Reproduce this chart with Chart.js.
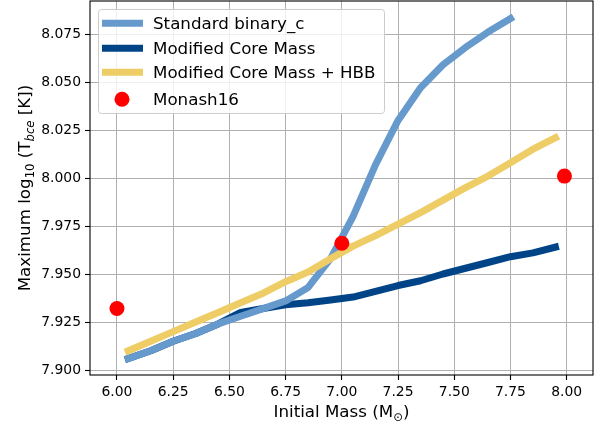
<!DOCTYPE html>
<html lang="en">
<head>
  <meta charset="UTF-8" />
  <title>Maximum Tbce vs initial mass</title>
  <script src="https://cdn.jsdelivr.net/npm/chart.js"></script>
  <style>
    body { margin: 0; background: #fff; }
    canvas { display: block; }
  </style>
</head>
<body>
<canvas id="chartCanvas" width="598" height="425"></canvas>

<script>
  // values
  const masses = [6.05, 6.15, 6.25, 6.35, 6.45, 6.55, 6.65, 6.75, 6.85, 6.95,
                  7.05, 7.15, 7.25, 7.35, 7.45, 7.55, 7.65, 7.75, 7.85, 7.95];
  const standardTbce = [7.906, 7.910, 7.915, 7.919, 7.924, 7.928, 7.932, 7.936, 7.943, 7.958,
                        7.980, 8.007, 8.030, 8.047, 8.059, 8.068, 8.076, 8.083];
  const coreMassTbce = [7.906, 7.910, 7.915, 7.919, 7.924, 7.930, 7.932, 7.934, 7.935, 7.9365,
                        7.938, 7.941, 7.944, 7.9465, 7.950, 7.953, 7.956, 7.959, 7.961, 7.964];
  const coreMassHbbTbce = [7.910, 7.915, 7.920, 7.925, 7.930, 7.935, 7.940, 7.946, 7.951, 7.958,
                           7.9645, 7.970, 7.976, 7.982, 7.9885, 7.995, 8.001, 8.008, 8.015, 8.021];
  const monashMasses = [6.0, 7.0, 7.99];
  const monashTbce = [7.932, 7.966, 8.001];

  const xTicks = [6.0, 6.25, 6.5, 6.75, 7.0, 7.25, 7.5, 7.75, 8.0];
  const yTicks = [7.9, 7.925, 7.95, 7.975, 8.0, 8.025, 8.05, 8.075];

  const FONT = "'DejaVu Sans', sans-serif";

  function toPoints(xs, ys) {
    return ys.map((y, i) => ({ x: xs[i], y: y }));
  }

  // draw a run of text pieces, some as subscripts
  function drawPieces(ctx, pieces, size, x, y, align) {
    let total = 0;
    const widths = pieces.map(p => {
      ctx.font = (p.italic ? 'italic ' : '') + (p.sub ? size * 0.7 : size) + 'px ' + FONT;
      const w = ctx.measureText(p.t).width;
      total += w;
      return w;
    });
    let cx = align === 'center' ? x - total / 2 : x;
    pieces.forEach((p, i) => {
      ctx.font = (p.italic ? 'italic ' : '') + (p.sub ? size * 0.7 : size) + 'px ' + FONT;
      ctx.fillText(p.t, cx, p.sub ? y + size * 0.22 : y);
      cx += widths[i];
    });
  }

  const legendItems = [
    { label: 'Standard binary_c', color: '#6699cc', type: 'line' },
    { label: 'Modified Core Mass', color: '#004488', type: 'line' },
    { label: 'Modified Core Mass + HBB', color: '#eecc66', type: 'line' },
    { label: 'Monash16', color: '#ff0000', type: 'dot' }
  ];

  const decorations = {
    id: 'decorations',
    afterDatasetsDraw(chart) {
      const ctx = chart.ctx;
      const a = chart.chartArea;
      ctx.save();

      // legend box inside the plot, upper left
      const bx = 98.5, by = 9.5, bw = 286, bh = 104, r = 3;
      ctx.beginPath();
      ctx.moveTo(bx + r, by);
      ctx.arcTo(bx + bw, by, bx + bw, by + bh, r);
      ctx.arcTo(bx + bw, by + bh, bx, by + bh, r);
      ctx.arcTo(bx, by + bh, bx, by, r);
      ctx.arcTo(bx, by, bx + bw, by, r);
      ctx.closePath();
      ctx.fillStyle = 'rgba(255,255,255,0.8)';
      ctx.fill();
      ctx.strokeStyle = '#cccccc';
      ctx.lineWidth = 1;
      ctx.stroke();

      const rows = [23.3, 48.3, 72.3, 98.8];
      legendItems.forEach((item, i) => {
        const cy = rows[i];
        if (item.type === 'line') {
          ctx.strokeStyle = item.color;
          ctx.lineWidth = 7;
          ctx.lineCap = 'butt';
          ctx.beginPath();
          ctx.moveTo(102, cy);
          ctx.lineTo(143, cy);
          ctx.stroke();
        } else {
          ctx.fillStyle = item.color;
          ctx.beginPath();
          ctx.arc(122, cy + 0.5, 7.5, 0, Math.PI * 2);
          ctx.fill();
        }
        ctx.fillStyle = '#000';
        ctx.font = '16.7px ' + FONT;
        ctx.textAlign = 'left';
        ctx.textBaseline = 'alphabetic';
        ctx.fillText(item.label, 153, cy + 6);
      });

      // axes frame
      ctx.strokeStyle = '#000';
      ctx.lineWidth = 1.1;
      ctx.strokeRect(a.left, a.top, a.right - a.left, a.bottom - a.top);

      // axis titles
      ctx.fillStyle = '#000';
      ctx.textAlign = 'left';
      ctx.textBaseline = 'alphabetic';
      drawPieces(ctx, [
        { t: 'Initial Mass (M' },
        { t: '\u2299', sub: true },
        { t: ')' }
      ], 16.7, (a.left + a.right) / 2, 417, 'center');

      ctx.translate(30, (a.top + a.bottom) / 2);
      ctx.rotate(-Math.PI / 2);
      drawPieces(ctx, [
        { t: 'Maximum log' },
        { t: '10', sub: true },
        { t: ' (T' },
        { t: 'bce', sub: true, italic: true },
        { t: ' [K])' }
      ], 16.7, 0, 0, 'center');
      ctx.restore();
    }
  };

  const ctx = document.getElementById('chartCanvas').getContext('2d');
  new Chart(ctx, {
    type: 'line',
    data: {
      datasets: [
        {
          label: 'Monash16',
          data: toPoints(monashMasses, monashTbce),
          showLine: false,
          pointRadius: 7.5,
          pointBackgroundColor: '#ff0000',
          pointBorderWidth: 0,
          order: 0
        },
        {
          label: 'Modified Core Mass + HBB',
          data: toPoints(masses, coreMassHbbTbce),
          borderColor: '#eecc66',
          order: 1
        },
        {
          label: 'Standard binary_c',
          data: toPoints(masses, standardTbce),
          borderColor: '#6699cc',
          order: 2
        },
        {
          label: 'Modified Core Mass',
          data: toPoints(masses, coreMassTbce),
          borderColor: '#004488',
          order: 3
        }
      ]
    },
    options: {
      responsive: false,
      animation: false,
      layout: { autoPadding: false, padding: { top: 1, right: 5, bottom: 0, left: 0 } },
      elements: {
        line: { borderWidth: 7, tension: 0, borderCapStyle: 'square', borderJoinStyle: 'round' },
        point: { radius: 0 }
      },
      scales: {
        x: {
          type: 'linear',
          min: 5.88,
          max: 8.117,
          afterBuildTicks: s => { s.ticks = xTicks.map(v => ({ value: v })); },
          afterFit: s => { s.height = 50; s.paddingLeft = 0; s.paddingRight = 0; },
          grid: { color: '#b0b0b0', lineWidth: 1, tickLength: 5, tickColor: '#000', tickWidth: 1.1 },
          border: { display: false },
          ticks: {
            padding: 4,
            color: '#000',
            font: { family: FONT, size: 13.9 },
            maxRotation: 0,
            autoSkip: false,
            callback: v => v.toFixed(2)
          }
        },
        y: {
          type: 'linear',
          min: 7.8974,
          max: 8.0922,
          afterBuildTicks: s => { s.ticks = yTicks.map(v => ({ value: v })); },
          afterFit: s => { s.width = 90; s.paddingTop = 0; s.paddingBottom = 0; },
          grid: { color: '#b0b0b0', lineWidth: 1, tickLength: 5, tickColor: '#000', tickWidth: 1.1 },
          border: { display: false },
          ticks: {
            padding: 4,
            color: '#000',
            font: { family: FONT, size: 13.9 },
            autoSkip: false,
            callback: v => v.toFixed(3)
          }
        }
      },
      plugins: {
        legend: { display: false },
        tooltip: { enabled: false }
      }
    },
    plugins: [decorations]
  });
</script>
</body>
</html>
